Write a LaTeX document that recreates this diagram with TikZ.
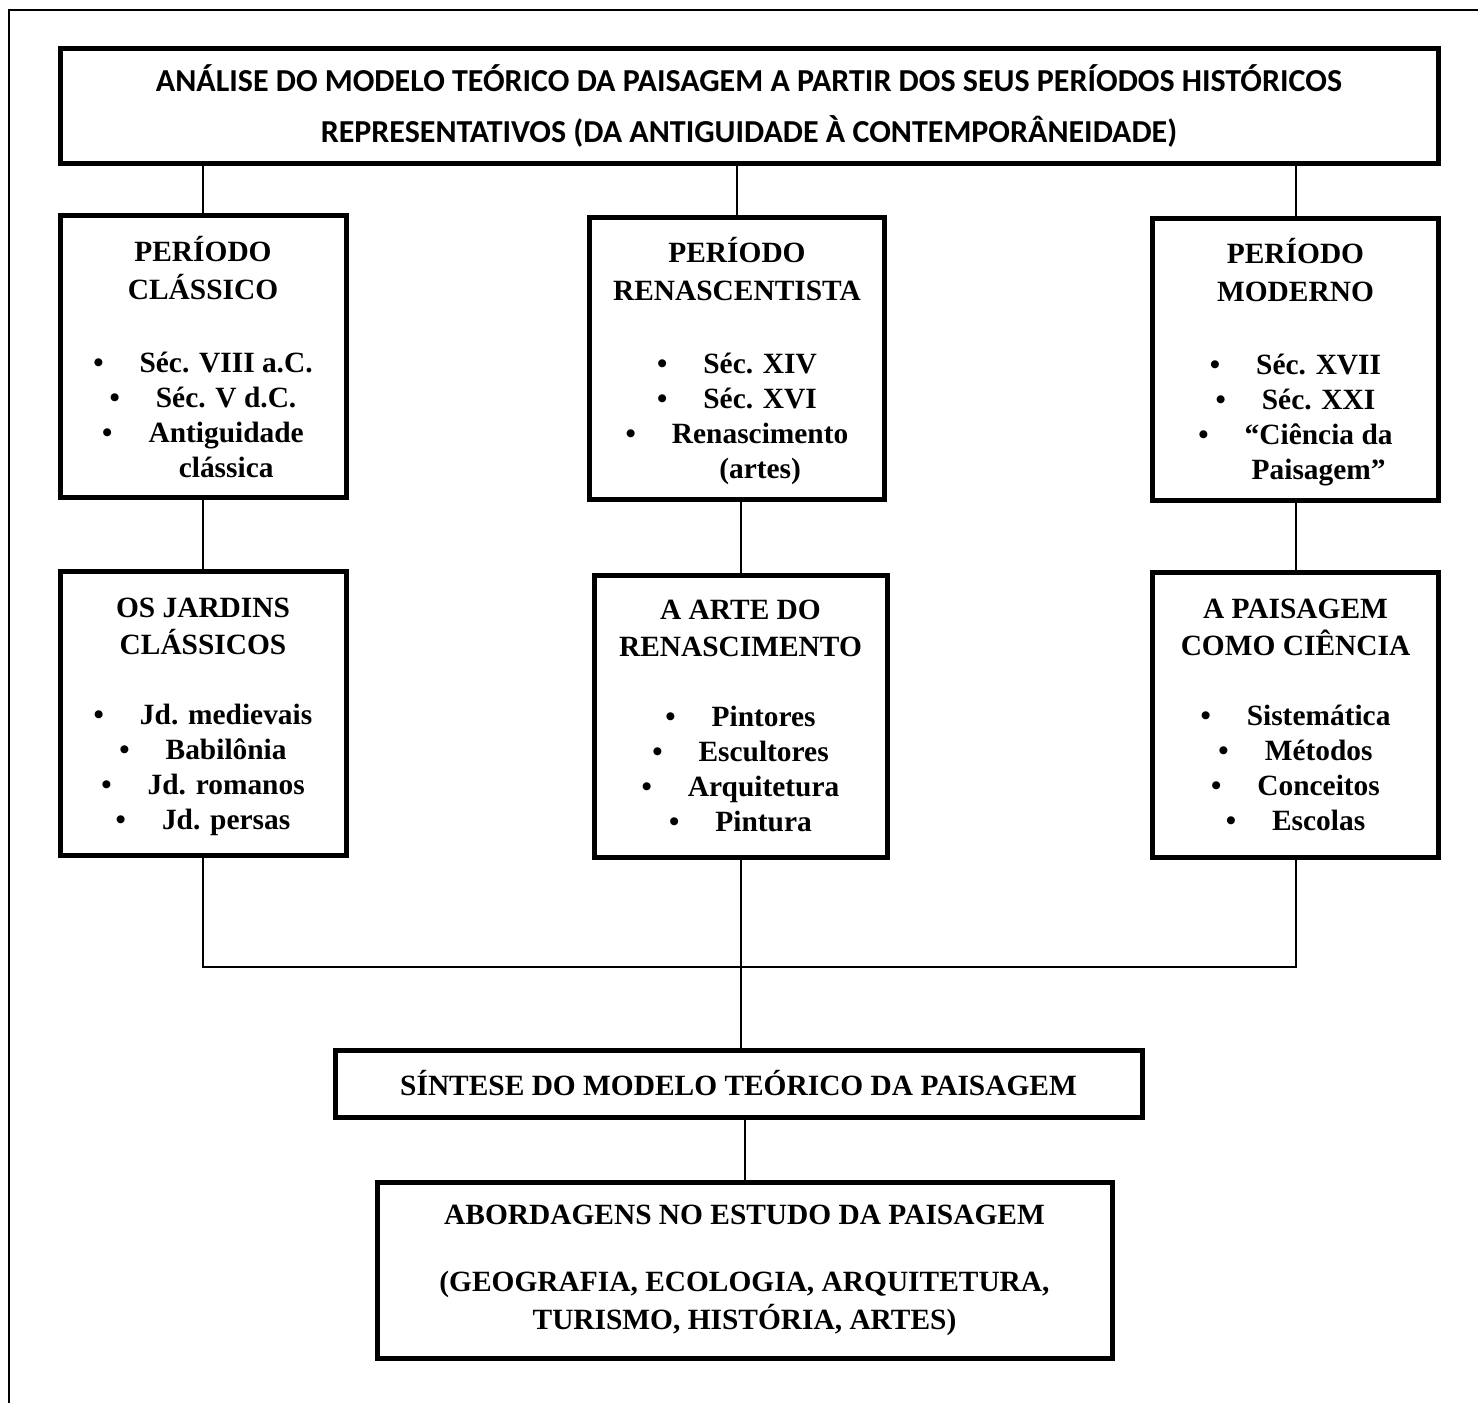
\documentclass[tikz,border=0pt]{standalone}
\usepackage{fontspec}
\setmainfont{Liberation Serif}
\newfontfamily\titlefont{Carlito}
\newcommand{\itm}[1]{\textbullet\hspace{18pt}#1}
\newcommand{\itmtwo}[2]{\textbullet\hspace{18pt}\begin{tabular}[t]{@{}c@{}}#1\\#2\end{tabular}}
% struts that fix where the text sits in a box
\newcommand{\toprow}{\rule{0pt}{17.75pt}}
\newcommand{\topsub}{\rule{0pt}{14.5pt}}
\newcommand{\botsub}{\rule[-5pt]{0pt}{5pt}}

\begin{document}
\begin{tikzpicture}[x=0.5pt,y=-0.5pt,
  box/.style={draw,line width=2.5pt,inner sep=0pt,align=center,
    font=\bfseries\fontsize{14.7}{17.5}\selectfont},
  period/.style={box,minimum width=143pt,minimum height=141pt},
  link/.style={line width=1pt}]
  \useasboundingbox (0,0) rectangle (1478,1403);
  % page frame
  \draw[line width=1pt] (9,1403) -- (9,10) -- (1478,10);
  % title
  \node[box,minimum width=689pt,minimum height=57.5pt,
    font=\titlefont\bfseries\fontsize{16}{25.5}\selectfont] (title) at (749,106)
    {ANÁLISE DO MODELO TEÓRICO DA PAISAGEM A PARTIR DOS SEUS PERÍODOS HISTÓRICOS\\
     REPRESENTATIVOS (DA ANTIGUIDADE À CONTEMPORÂNEIDADE)};
  % periods
  \node[period] (classico) at (203,356.5)
    {\toprow PERÍODO\\[1.5pt]CLÁSSICO\\[19pt]\itm{Séc. VIII a.C.}\\\itm{Séc. V d.C.}\\
     \itmtwo{Antiguidade}{clássica}};
  \node[period,minimum width=147.5pt] (renasc) at (737,358)
    {\toprow PERÍODO\\[1.5pt]RENASCENTISTA\\[19pt]\itm{Séc. XIV}\\\itm{Séc. XVI}\\
     \itmtwo{Renascimento}{(artes)}};
  \node[period] (moderno) at (1295.5,359)
    {\toprow PERÍODO\\[1.5pt]MODERNO\\[19pt]\itm{Séc. XVII}\\\itm{Séc. XXI}\\
     \itmtwo{“Ciência da}{Paisagem”}};
  % contents
  \node[period,minimum height=142pt] (jardins) at (203,713.5)
    {\topsub OS JARDINS\\[1pt]CLÁSSICOS\\[17.5pt]\itm{Jd. medievais}\\\itm{Babilônia}\\
     \itm{Jd. romanos}\\\itm{Jd. persas}\botsub};
  \node[period,minimum width=146.5pt] (arte) at (740.5,716)
    {\topsub A ARTE DO\\[1pt]RENASCIMENTO\\[17.5pt]\itm{Pintores}\\\itm{Escultores}\\
     \itm{Arquitetura}\\\itm{Pintura}\botsub};
  \node[period,minimum height=142.5pt] (ciencia) at (1295.5,714.5)
    {\topsub A PAISAGEM\\[1pt]COMO CIÊNCIA\\[17.5pt]\itm{Sistemática}\\\itm{Métodos}\\
     \itm{Conceitos}\\\itm{Escolas}\botsub};
  % synthesis
  \node[box,minimum width=403.5pt,minimum height=33.5pt] (sintese) at (738.5,1083.5)
    {SÍNTESE DO MODELO TEÓRICO DA PAISAGEM};
  \node[box,minimum width=367.5pt,minimum height=88pt] (abord) at (744.5,1270)
    {ABORDAGENS NO ESTUDO DA PAISAGEM\\[16pt]
     (GEOGRAFIA, ECOLOGIA, ARQUITETURA,\\[1.5pt]TURISMO, HISTÓRIA, ARTES)};
  % connectors
  \coordinate (join) at (740,967);
  \draw[link] (title.south -| classico.north) -- (classico.north);
  \draw[link] (title.south -| renasc.north) -- (renasc.north);
  \draw[link] (title.south -| moderno.north) -- (moderno.north);
  \draw[link] (classico.south) -- (jardins.north);
  \draw[link] (renasc.south -| arte.north) -- (arte.north);
  \draw[link] (moderno.south) -- (ciencia.north);
  \draw[link] (jardins.south) |- (join) -| (ciencia.south);
  \draw[link] (arte.south) -- (arte.south |- sintese.north);
  \draw[link] (sintese.south -| abord.north) -- (abord.north);
\end{tikzpicture}
\end{document}
